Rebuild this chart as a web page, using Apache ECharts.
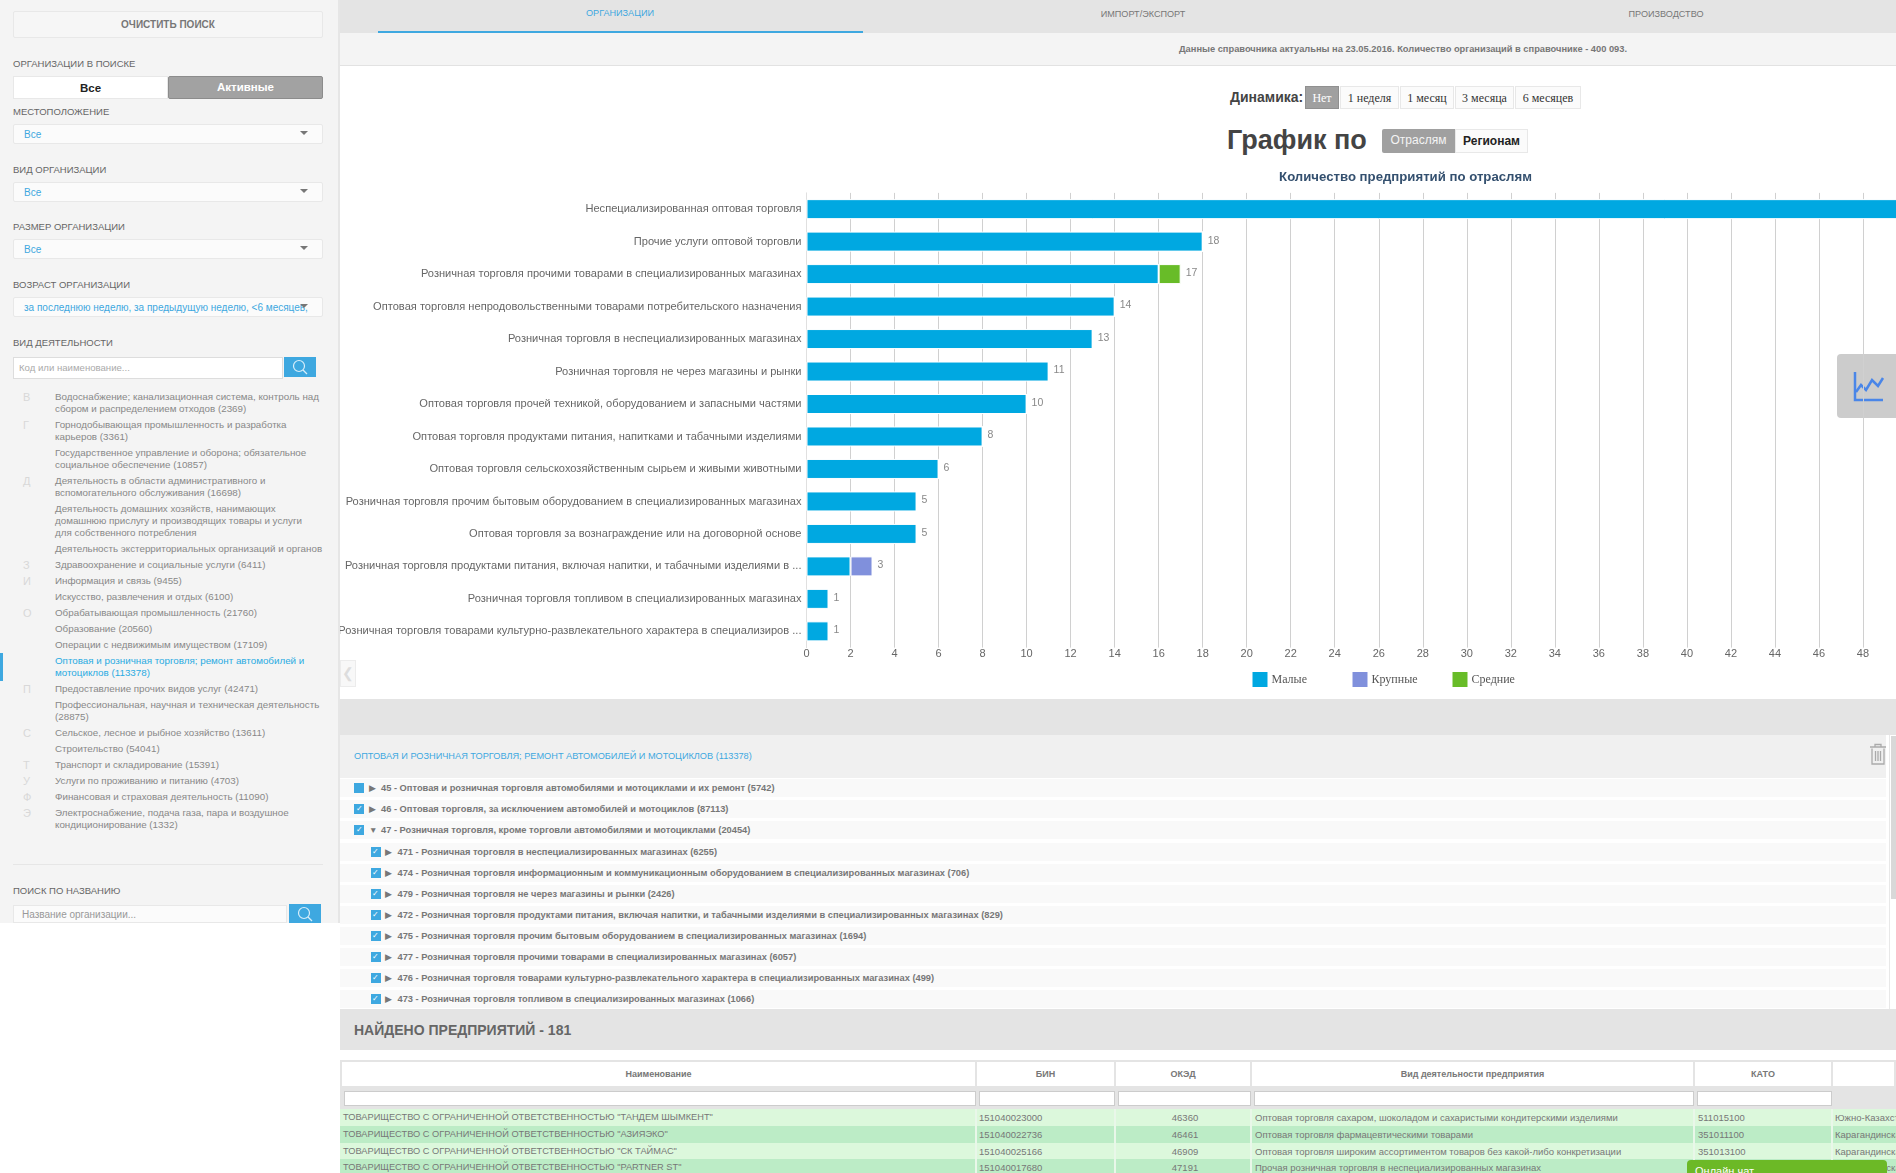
<!DOCTYPE html>
<html>
<head>
<meta charset="utf-8">
<script src="https://cdn.jsdelivr.net/npm/echarts@6/dist/echarts.min.js"></script>
<style>
  html, body { margin: 0; padding: 0; width: 1896px; height: 1173px; overflow: hidden; background: #fff; font-family: "Liberation Sans", Arial, sans-serif; }
  .a { position: absolute; box-sizing: border-box; white-space: nowrap; }
  .lbl { left: 13px; font-size: 9.5px; line-height: 12px; color: #666; }
  .sel { left: 13px; width: 310px; height: 20px; background: #fbfbfb; border: 1px solid #e8e8e8; border-radius: 2px; font-size: 10px; line-height: 19px; padding-left: 10px; color: #3ea8e0; }
  .sel:after { content: ''; position: absolute; right: 14px; top: 6px; border-left: 4px solid transparent; border-right: 4px solid transparent; border-top: 4px solid #777; }
  .sbtn { background: #3ea8e0; }
  .dyn { top: 86px; height: 23px; font-family: "Liberation Serif", serif; font-size: 12px; line-height: 22px; text-align: center; color: #333; background: #fbfbfb; border: 1px solid #e8e8e8; }
  .tree { height: 18px; background: #f9f9f9; font-size: 9.3px; line-height: 18px; font-weight: bold; color: #777; }
  .chk { position: absolute; top: 4px; width: 10px; height: 10px; background: #3ea8e0; color: #fff; font-size: 8px; line-height: 10px; text-align: center; font-weight: normal; }
  .tri { position: absolute; top: 0; font-size: 8.5px; color: #777; font-weight: normal; }
  .th { top: 1062px; height: 24px; background: #fff; font-size: 9px; font-weight: bold; line-height: 24px; text-align: center; color: #777; }
  .fl { top: 1091px; height: 15px; background: #fff; border: 1px solid #ccc; }
  .td { height: 17px; font-size: 9.5px; line-height: 17px; color: #777; padding-left: 2px; overflow: hidden; }
</style>
</head>
<body>
<div class="a" style="left:1837px;top:354px;width:70px;height:64px;background:#ccc;border-radius:4px;">
  <svg width="40" height="40" style="position:absolute;left:15px;top:16px;" fill="none" stroke="#4a86e8" stroke-width="2.5"><path d="M3 2V30H31"/><path d="M4 22L9 15L14 20L20 10L26 16L31 8"/></svg>
</div>
<div id="chart" class="a" style="left:340px;top:167px;width:1800px;height:532px;"></div>
<div id="page"></div>

<script>
// данные графика
const categories = [
  'Неспециализированная оптовая торговля',
  'Прочие услуги оптовой торговли',
  'Розничная торговля прочими товарами в специализированных магазинах',
  'Оптовая торговля непродовольственными товарами потребительского назначения',
  'Розничная торговля в неспециализированных магазинах',
  'Розничная торговля не через магазины и рынки',
  'Оптовая торговля прочей техникой, оборудованием и запасными частями',
  'Оптовая торговля продуктами питания, напитками и табачными изделиями',
  'Оптовая торговля сельскохозяйственным сырьем и живыми животными',
  'Розничная торговля прочим бытовым оборудованием в специализированных магазинах',
  'Оптовая торговля за вознаграждение или на договорной основе',
  'Розничная торговля продуктами питания, включая напитки, и табачными изделиями в ...',
  'Розничная торговля топливом в специализированных магазинах',
  'Розничная торговля товарами культурно-развлекательного характера в специализиров ...'
];
const smallValues = [52, 18, 16, 14, 13, 11, 10, 8, 6, 5, 5, 2, 1, 1];
const largeValues = [0, 0, 0, 0, 0, 0, 0, 0, 0, 0, 0, 1, 0, 0];
const mediumValues = [0, 0, 1, 0, 0, 0, 0, 0, 0, 0, 0, 0, 0, 0];
const totals = [52, 18, 17, 14, 13, 11, 10, 8, 6, 5, 5, 3, 1, 1];
const seriesNames = ['Малые', 'Крупные', 'Средние'];
const seriesColors = ['#00a8e1', '#8090dc', '#68bc28'];
const legendLefts = [910.5, 1010.5, 1110.5];

// боковая панель
const activityLetters = ['В', 'Г', '', 'Д', '', '', 'З', 'И', '', 'О', '', '', '', 'П', '', 'С', '', 'Т', 'У', 'Ф', 'Э'];
const activityItems = [
  'Водоснабжение; канализационная система, контроль над<br>сбором и распределением отходов (2369)',
  'Горнодобывающая промышленность и разработка<br>карьеров (3361)',
  'Государственное управление и оборона; обязательное<br>социальное обеспечение (10857)',
  'Деятельность в области административного и<br>вспомогательного обслуживания (16698)',
  'Деятельность домашних хозяйств, нанимающих<br>домашнюю прислугу и производящих товары и услуги<br>для собственного потребления',
  'Деятельность экстерриториальных организаций и органов',
  'Здравоохранение и социальные услуги (6411)',
  'Информация и связь (9455)',
  'Искусство, развлечения и отдых (6100)',
  'Обрабатывающая промышленность (21760)',
  'Образование (20560)',
  'Операции с недвижимым имуществом (17109)',
  'Оптовая и розничная торговля; ремонт автомобилей и<br>мотоциклов (113378)',
  'Предоставление прочих видов услуг (42471)',
  'Профессиональная, научная и техническая деятельность<br>(28875)',
  'Сельское, лесное и рыбное хозяйство (13611)',
  'Строительство (54041)',
  'Транспорт и складирование (15391)',
  'Услуги по проживанию и питанию (4703)',
  'Финансовая и страховая деятельность (11090)',
  'Электроснабжение, подача газа, пара и воздушное<br>кондиционирование (1332)'
];
const filterLabels = ['МЕСТОПОЛОЖЕНИЕ', 'ВИД ОРГАНИЗАЦИИ', 'РАЗМЕР ОРГАНИЗАЦИИ', 'ВОЗРАСТ ОРГАНИЗАЦИИ'];
const filterValues = ['Все', 'Все', 'Все', 'за последнюю неделю, за предыдущую неделю, &lt;6 месяцев,'];

// дерево видов деятельности
const treeRows = [
  '45 - Оптовая и розничная торговля автомобилями и мотоциклами и их ремонт (5742)',
  '46 - Оптовая торговля, за исключением автомобилей и мотоциклов (87113)',
  '47 - Розничная торговля, кроме торговли автомобилями и мотоциклами (20454)',
  '471 - Розничная торговля в неспециализированных магазинах (6255)',
  '474 - Розничная торговля информационным и коммуникационным оборудованием в специализированных магазинах (706)',
  '479 - Розничная торговля не через магазины и рынки (2426)',
  '472 - Розничная торговля продуктами питания, включая напитки, и табачными изделиями в специализированных магазинах (829)',
  '475 - Розничная торговля прочим бытовым оборудованием в специализированных магазинах (1694)',
  '477 - Розничная торговля прочими товарами в специализированных магазинах (6057)',
  '476 - Розничная торговля товарами культурно-развлекательного характера в специализированных магазинах (499)',
  '473 - Розничная торговля топливом в специализированных магазинах (1066)'
];
const treeCenters = [788, 809, 830, 852, 873, 894, 915, 936, 957, 978, 999];

// таблица
const tableHeads = ['Наименование', 'БИН', 'ОКЭД', 'Вид деятельности предприятия', 'КАТО', ''];
const tableCols = [342, 977, 1116, 1252, 1695, 1833, 1896];
const tableRows = [
  ['ТОВАРИЩЕСТВО С ОГРАНИЧЕННОЙ ОТВЕТСТВЕННОСТЬЮ "ТАНДЕМ ШЫМКЕНТ"', '151040023000', '46360', 'Оптовая торговля сахаром, шоколадом и сахаристыми кондитерскими изделиями', '511015100', 'Южно-Казахстанская'],
  ['ТОВАРИЩЕСТВО С ОГРАНИЧЕННОЙ ОТВЕТСТВЕННОСТЬЮ "АЗИЯЭКО"', '151040022736', '46461', 'Оптовая торговля фармацевтическими товарами', '351011100', 'Карагандинская'],
  ['ТОВАРИЩЕСТВО С ОГРАНИЧЕННОЙ ОТВЕТСТВЕННОСТЬЮ "СК ТАЙМАС"', '151040025166', '46909', 'Оптовая торговля широким ассортиментом товаров без какой-либо конкретизации', '351013100', 'Карагандинская'],
  ['ТОВАРИЩЕСТВО С ОГРАНИЧЕННОЙ ОТВЕТСТВЕННОСТЬЮ "PARTNER ST"', '151040017680', '47191', 'Прочая розничная торговля в неспециализированных магазинах', '', 'Карагандинская']
];
const rowTops = [1109, 1126, 1143, 1159];
const rowColors = ['#dcf8dc', '#bcecc6', '#dcf8dc', '#bcecc6'];

// рисуем страницу
let html = '';
function box(style, text, cls) {
  html += '<div class="a ' + (cls || '') + '" style="' + style + '">' + (text || '') + '</div>';
}

// вкладки и шапка
box('left:340px;top:0;width:1556px;height:33px;background:#e4e4e4;');
box('left:340px;top:33px;width:1556px;height:33px;background:#f4f4f4;border-bottom:1px solid #e2e2e2;');
box('left:378px;top:31px;width:485px;height:2px;background:#3ea8e0;');
box('left:520px;width:200px;top:7px;text-align:center;font-size:9.1px;line-height:13px;color:#3ea8e0;', 'ОРГАНИЗАЦИИ');
box('left:1043px;width:200px;top:8px;text-align:center;font-size:9.1px;line-height:13px;color:#777;', 'ИМПОРТ/ЭКСПОРТ');
box('left:1566px;width:200px;top:8px;text-align:center;font-size:9.1px;line-height:13px;color:#777;', 'ПРОИЗВОДСТВО');
box('left:1103px;width:600px;top:43px;text-align:center;font-size:9.3px;font-weight:bold;line-height:13px;color:#777;', 'Данные справочника актуальны на 23.05.2016. Количество организаций в справочнике - 400 093.');

// кнопки над графиком
box('left:1230px;top:88px;font-size:14px;font-weight:bold;line-height:18px;color:#444;', 'Динамика:');
box('left:1305px;width:34px;background:#a0a0a0;color:#fff;border-color:#909090;', 'Нет', 'dyn');
box('left:1340px;width:59px;', '1 неделя', 'dyn');
box('left:1400px;width:54px;', '1 месяц', 'dyn');
box('left:1455px;width:59px;', '3 месяца', 'dyn');
box('left:1515px;width:66px;', '6 месяцев', 'dyn');
box('left:1227px;top:123px;font-size:27px;font-weight:bold;line-height:34px;color:#444;', 'График по');
box('left:1382px;top:129px;width:73px;height:24px;background:#a0a0a0;color:#f4f4f4;font-size:12px;line-height:23px;text-align:center;border-radius:2px 0 0 2px;', 'Отраслям');
box('left:1455px;top:129px;width:73px;height:24px;background:#fbfbfb;border:1px solid #e8e8e8;color:#222;font-size:12px;font-weight:bold;line-height:22px;text-align:center;', 'Регионам');
box('left:340px;top:660px;width:16px;height:27px;background:#f8f8f8;border:1px solid #ececec;color:#ddd;font-size:14px;line-height:24px;text-align:center;', '❮');

// блок с деревом
box('left:340px;top:699px;width:1556px;height:36px;background:#e4e4e4;');
box('left:340px;top:735px;width:1546px;height:43px;background:#f0f0f0;');
box('left:354px;top:750px;font-size:9.2px;line-height:13px;color:#3ea8e0;', 'ОПТОВАЯ И РОЗНИЧНАЯ ТОРГОВЛЯ; РЕМОНТ АВТОМОБИЛЕЙ И МОТОЦИКЛОВ (113378)');
treeRows.forEach(function (text, i) {
  const sub = i > 2;
  const boxLeft = sub ? 30.5 : 14;
  const triLeft = sub ? 45 : 29;
  const textLeft = sub ? 57.5 : 41;
  const tri = i === 2 ? '▼' : '▶';
  const chk = '<span class="chk" style="left:' + boxLeft + 'px">' + (i === 0 ? '' : '✓') + '</span>';
  const mark = '<span class="tri" style="left:' + triLeft + 'px">' + tri + '</span>';
  const label = '<span style="position:absolute;left:' + textLeft + 'px">' + text + '</span>';
  box('left:340px;width:1546px;top:' + (treeCenters[i] - 9) + 'px;', chk + mark + label, 'tree');
});
box('left:1889px;top:735px;width:1px;height:274px;background:#e8e8e8;');
box('left:1891px;top:736px;width:5px;height:163px;background:#d8d8d8;');
box('left:1869px;top:743px;width:18px;height:22px;', '<svg width="18" height="22" fill="none" stroke="#aaa" stroke-width="1.3"><path d="M1 4H17M6 4V1.5H12V4M3 5.5V21H15V5.5M6.5 8V18M9 8V18M11.5 8V18"/></svg>');

// таблица
box('left:340px;top:1009px;width:1556px;height:41px;background:#e4e4e4;');
box('left:354px;top:1022px;font-size:14px;font-weight:bold;line-height:17px;color:#666;', 'НАЙДЕНО ПРЕДПРИЯТИЙ - 181');
box('left:340px;top:1060px;width:1556px;height:49px;background:#e4e4e4;');
tableHeads.forEach(function (text, i) {
  const l = tableCols[i], w = tableCols[i + 1] - l;
  box('left:' + l + 'px;width:' + (w - 2) + 'px;', text, 'th');
  if (i < 5) box('left:' + (l + 2) + 'px;width:' + (w - 3) + 'px;', '', 'fl');
});
tableRows.forEach(function (row, r) {
  const h = (rowTops[r + 1] || 1176) - rowTops[r];
  box('left:340px;width:1556px;top:' + rowTops[r] + 'px;height:' + h + 'px;background:' + rowColors[r] + ';');
  row.forEach(function (text, i) {
    const l = tableCols[i] + (i === 3 || i === 4 ? 1 : 0), w = tableCols[i + 1] - l;
    const extra = (i === 2 ? 'text-align:center;' : '') + (i === 0 ? 'font-size:9.25px;padding-left:1px;' : '');
    box('left:' + l + 'px;width:' + w + 'px;top:' + rowTops[r] + 'px;' + extra, text, 'td');
    if (i > 0) box('left:' + (tableCols[i] - 2) + 'px;width:2px;top:' + rowTops[r] + 'px;height:' + h + 'px;background:#e9f7e9;');
  });
});
box('left:1687px;top:1160px;width:200px;height:20px;background:#6cb926;border-radius:4px 4px 0 0;color:#fff;font-size:11px;line-height:22px;padding-left:8px;', 'Онлайн чат');

// боковая панель
box('left:0;top:0;width:340px;height:923px;background:#f4f4f4;border-right:2px solid #e6e6e6;');
box('left:13px;top:11px;width:310px;height:27px;background:#f6f6f6;border:1px solid #e8e8e8;border-radius:2px;font-size:10px;font-weight:bold;line-height:26px;text-align:center;color:#777;', 'ОЧИСТИТЬ ПОИСК');
box('top:58px;', 'ОРГАНИЗАЦИИ В ПОИСКЕ', 'lbl');
box('left:13px;top:76px;width:155px;height:23px;background:#fff;border:1px solid #e8e8e8;font-size:11.5px;font-weight:bold;line-height:23px;text-align:center;color:#222;', 'Все');
box('left:168px;top:76px;width:155px;height:23px;background:#a2a2a2;border:1px solid #8c8c8c;border-radius:2px;font-size:11.5px;font-weight:bold;line-height:20px;text-align:center;color:#fff;', 'Активные');
filterLabels.forEach(function (text, i) {
  const t = [106, 164, 221, 279][i];
  box('top:' + t + 'px;', text, 'lbl');
  box('top:' + (t + 18) + 'px;', filterValues[i], 'sel');
});
box('top:337px;', 'ВИД ДЕЯТЕЛЬНОСТИ', 'lbl');
box('left:13px;top:357px;width:270px;height:22px;background:#fff;border:1px solid #ddd;font-size:9.6px;line-height:20px;padding-left:5px;color:#aaa;', 'Код или наименование...');
const glass = '<svg width="32" height="20" fill="none" stroke="#d8eefa" stroke-width="1.2"><circle cx="15" cy="9" r="5.5"/><path d="M19 13L23 17"/></svg>';
box('left:284px;top:357px;width:32px;height:20px;', glass, 'sbtn');
box('left:0;top:653px;width:3px;height:28px;background:#3ea8e0;');
let itemTop = 391;
activityItems.forEach(function (text, i) {
  const lines = text.split('<br>').length;
  const color = i === 12 ? '#29abe2' : '#888';
  box('left:23px;top:' + (itemTop - 1) + 'px;font-size:11px;line-height:14px;color:#d8d8d8;', activityLetters[i]);
  box('left:55px;top:' + itemTop + 'px;font-size:9.8px;line-height:12px;color:' + color + ';', text);
  itemTop += lines * 12 + 4;
});
box('left:13px;top:864px;width:310px;height:1px;background:#e6e6e6;');
box('top:885px;', 'ПОИСК ПО НАЗВАНИЮ', 'lbl');
box('left:13px;top:905px;width:274px;height:18px;background:#fbfbfb;border:1px solid #e8e8e8;font-size:10px;line-height:17px;padding-left:8px;color:#999;', 'Название организации...');
box('left:289px;top:904px;width:32px;height:19px;', glass, 'sbtn');
document.getElementById('page').innerHTML = html;

// график
const chart = echarts.init(document.getElementById('chart'));
const labelFont = '"Liberation Sans", Arial, sans-serif';
const stacks = [smallValues, largeValues, mediumValues].map(function (values, i) {
  return {
    name: seriesNames[i],
    type: 'bar',
    stack: 'total',
    barWidth: 20,
    data: values,
    itemStyle: { color: seriesColors[i], borderColor: '#fff', borderWidth: 1 }
  };
});
// подпись суммы справа от стопки
stacks.push({
  name: 'Всего',
  type: 'bar',
  stack: 'total',
  silent: true,
  data: totals.map(function () { return 0; }),
  itemStyle: { color: 'transparent' },
  label: {
    show: true,
    position: 'right',
    distance: 5,
    offset: [0, -1],
    color: '#888',
    fontSize: 10.5,
    fontFamily: labelFont,
    formatter: function (p) { return totals[p.dataIndex]; }
  }
});

chart.setOption({
  animation: false,
  backgroundColor: 'transparent',
  title: {
    text: 'Количество предприятий по отраслям',
    left: 1065.5,
    top: 4,
    padding: 0,
    textAlign: 'center',
    textStyle: { color: '#34506f', fontSize: 13.2, fontWeight: 'bold', fontFamily: labelFont }
  },
  legend: seriesNames.map(function (name, i) {
    return {
      data: [name],
      left: legendLefts[i],
      top: 503,
      padding: 0,
      itemWidth: 17,
      itemHeight: 17,
      itemGap: 4,
      icon: 'rect',
      textStyle: { color: '#555', fontSize: 12, fontFamily: '"Liberation Serif", serif', padding: [0, 0, 0, -2] }
    };
  }),
  grid: { left: 466.5, top: 25.9, width: 1320.6, height: 454.7, outerBoundsMode: 'none' },
  xAxis: {
    type: 'value',
    min: 0,
    max: 60,
    interval: 2,
    axisLine: { show: false },
    axisTick: { show: false },
    axisLabel: { color: '#666', fontSize: 11, fontFamily: labelFont, margin: 1 },
    splitLine: { lineStyle: { color: '#d0d0d0', width: 1 } }
  },
  yAxis: {
    type: 'category',
    inverse: true,
    data: categories,
    axisLine: { lineStyle: { color: '#e0e0e0' } },
    axisTick: { length: 4, lineStyle: { color: '#e0e0e0' } },
    axisLabel: { color: '#666', fontSize: 11.1, fontFamily: labelFont, margin: 5 }
  },
  series: stacks
});
</script>
</body>
</html>
